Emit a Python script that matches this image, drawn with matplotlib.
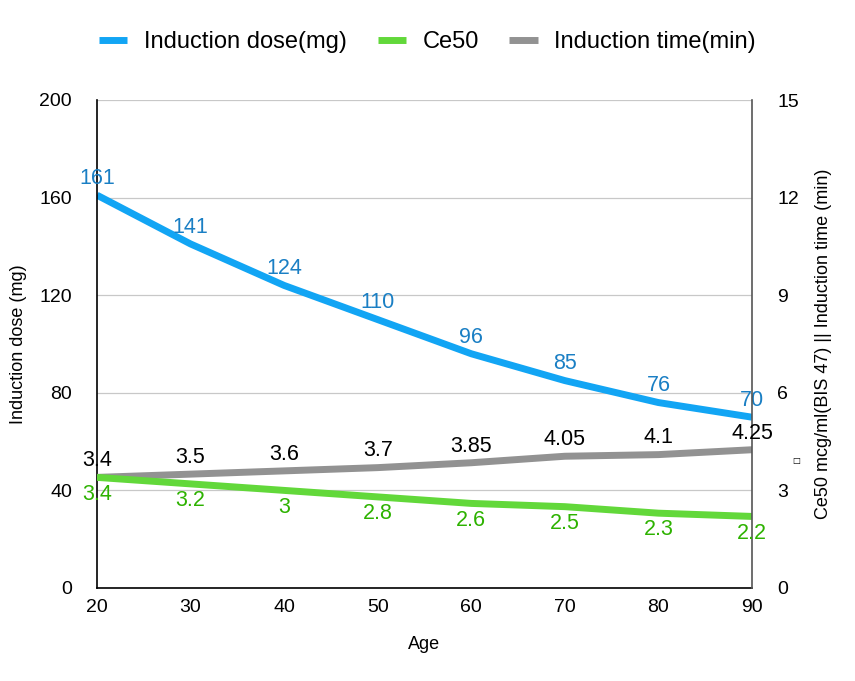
import numpy as np
import matplotlib.pyplot as plt

plt.rcParams['font.family'] = ['Liberation Sans', 'DejaVu Sans']

age = [20, 30, 40, 50, 60, 70, 80, 90]
dose = [161, 141, 124, 110, 96, 85, 76, 70]
ce50 = [3.4, 3.2, 3, 2.8, 2.6, 2.5, 2.3, 2.2]
ind_time = [3.4, 3.5, 3.6, 3.7, 3.85, 4.05, 4.1, 4.25]
time_labels = ['3.4', '3.5', '3.6', '3.7', '3.85', '4.05', '4.1', '4.25']

blue = '#12A5F4'
green = '#62D83A'
gray = '#929292'

fig = plt.figure(figsize=(8.55, 6.81), dpi=100)
ax = fig.add_axes([97/855, 1 - 588/681, (752-97)/855, (588-100)/681])
ax2 = ax.twinx()

ax.set_xlim(20, 90)
ax.set_ylim(0, 200)
ax2.set_ylim(0, 15)
ax.set_yticks([0, 40, 80, 120, 160, 200])
ax2.set_yticks([0, 3, 6, 9, 12, 15])
ax.set_xticks(age)
ax.yaxis.grid(True, color='#c8c8c8', lw=0.9)
ax.set_axisbelow(True)

for a in (ax, ax2):
    a.tick_params(axis='y', length=0, labelsize=14, pad=18)
    a.tick_params(axis='x', length=0, labelsize=14, pad=8)
    a.spines['top'].set_visible(False)
    for s in ('left', 'bottom', 'right'):
        a.spines[s].set_linewidth(1.2)
ax2.spines['right'].set_color('#555555')
ax2.spines['left'].set_visible(False)
ax2.spines['bottom'].set_visible(False)
ax.spines['right'].set_visible(False)

l1, = ax.plot(age, dose, color=blue, lw=5, solid_capstyle='butt', label='Induction dose(mg)')
l3, = ax2.plot(age, ind_time, color=gray, lw=5, solid_capstyle='butt', label='Induction time(min)')
l2, = ax2.plot(age, ce50, color=green, lw=5, solid_capstyle='butt', label='Ce50')

for x, y in zip(age, dose):
    ax.annotate(str(y), (x, y), xytext=(0, 12), textcoords='offset points',
                ha='center', va='center', color='#1a7fc4', fontsize=15.5)
for x, y, t in zip(age, ind_time, time_labels):
    ax2.annotate(t, (x, y), xytext=(0, 12), textcoords='offset points',
                 ha='center', va='center', color='black', fontsize=15.5)
for x, y in zip(age, ce50):
    ax2.annotate(f'{y:g}', (x, y), xytext=(0, -12), textcoords='offset points',
                 ha='center', va='center', color='#2DB200', fontsize=15.5)

ax.set_xlabel('Age', fontsize=13, labelpad=14)
ax.set_ylabel('Induction dose (mg)', fontsize=13, labelpad=9)
ax2.set_ylabel('Ce50 mcg/ml(BIS 47) || Induction time (min)', fontsize=13, labelpad=12)
fig.text(796/855, 1 - 461/681, '\u25a1', fontsize=6, ha='center', va='center',
         family='DejaVu Sans')

fig.legend(handles=[l1, l2, l3], loc='center', bbox_to_anchor=(0.5, 1 - 42/681),
           ncol=3, frameon=False, fontsize=17, handlelength=1.2, handletextpad=0.7,
           columnspacing=1.3)

fig.savefig('out.png', dpi=100)
